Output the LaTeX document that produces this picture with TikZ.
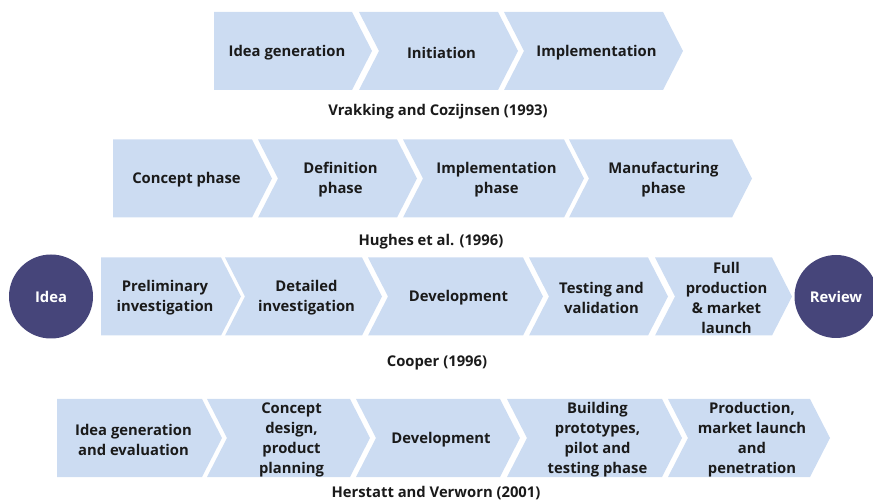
\documentclass[tikz,border=0pt]{standalone}
\usepackage{fontspec}
\setmainfont{Open Sans}
\definecolor{chevfill}{HTML}{CCDCF2}
\definecolor{circfill}{HTML}{46457A}
\definecolor{txtcol}{HTML}{1A1A1A}
% #1 name, #2 left x, #3 top-right x, #4 centre y, #5 notch depth, #6 text shift, #7 text
\newcommand\mychev[7]{%
  \fill[chevfill] (#2,#4-39) -- (#3,#4-39) -- (#3+20,#4) -- (#3,#4+39)
    -- (#2,#4+39) -- (#2+#5,#4) -- cycle;
  \node[lbl] (#1) at ({(#2+#3)/2+#6},#4+1.5) {#7};
}
\begin{document}
\begin{tikzpicture}[x=1pt,y=-1pt,
  lbl/.style={align=center,inner sep=0pt,text=txtcol,
    font=\bfseries\fontsize{14.8}{20}\selectfont},
  capt/.style={inner sep=0pt,text=txtcol,
    font=\bfseries\fontsize{14.8}{20}\selectfont},
  phasecirc/.style={circle,fill=circfill,text=white,inner sep=0pt,
    font=\bfseries\fontsize{14.8}{20}\selectfont}]
\useasboundingbox (0,0) rectangle (873,502);
% Row 1
\mychev{a1}{214}{352}{51}{0}{4}{Idea generation}
\mychev{a2}{359}{498}{51}{20}{13}{Initiation}
\mychev{a3}{504}{663}{51}{20}{13}{Implementation}
\node[capt] (c1) at (438,112) {Vrakking and Cozijnsen (1993)};
% Row 2
\mychev{b1}{113}{252}{178.5}{0}{4}{Concept phase}
\mychev{b2}{258}{397}{178.5}{20}{13}{Definition\\phase}
\mychev{b3}{403}{564}{178.5}{20}{13}{Implementation\\phase}
\mychev{b4}{569}{732}{178.5}{20}{13}{Manufacturing\\phase}
\node[capt] (c2) at (431,242) {Hughes et al. (1996)};
% Row 3
\node[phasecirc,minimum size=84pt] (idea) at (51,296.5) {Idea};
\mychev{d1}{101}{221}{296.5}{0}{4}{Preliminary\\investigation}
\mychev{d2}{225}{362}{296.5}{20}{13}{Detailed\\investigation}
\mychev{d3}{368}{523}{296.5}{20}{13}{Development}
\mychev{d4}{529}{648}{296.5}{20}{13}{Testing and\\validation}
\mychev{d5}{655}{772}{296.5}{20}{13}{Full\\production\\\& market\\launch}
\node[phasecirc,minimum size=83pt] (review) at (836,296.5) {Review};
\node[capt] (c3) at (437,362.5) {Cooper (1996)};
% Row 4
\mychev{e1}{57}{202}{438}{0}{4}{Idea generation\\and evaluation}
\mychev{e2}{207}{350}{438}{20}{13}{Concept\\design,\\product\\planning}
\mychev{e3}{356}{500}{438}{20}{13}{Development}
\mychev{e4}{507}{662}{438}{20}{13}{Building\\prototypes,\\pilot and\\testing phase}
\mychev{e5}{668}{810}{438}{20}{13}{Production,\\market launch\\and\\penetration}
\node[capt] (c4) at (436,493) {Herstatt and Verworn (2001)};
\end{tikzpicture}
\end{document}
